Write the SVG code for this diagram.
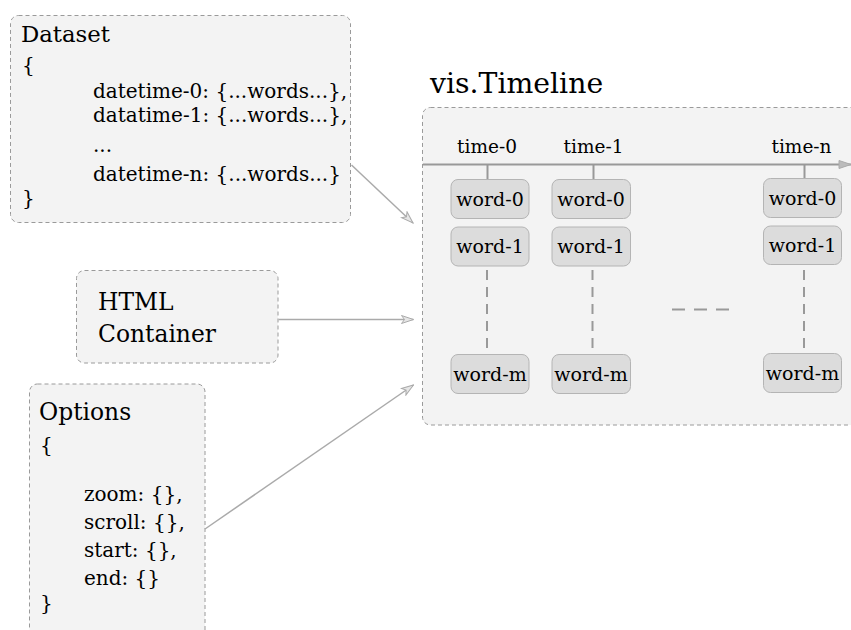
<svg xmlns="http://www.w3.org/2000/svg" width="851" height="630" viewBox="0 0 851 630">
<defs>
<style>
text{font-family:"DejaVu Serif","Liberation Serif",serif;fill:#000}
.box{fill:#f3f3f3;stroke:#9a9a9a;stroke-width:1;stroke-dasharray:4 3}
.word{fill:#dcdcdc;stroke:#b4b4b4;stroke-width:1}
.wt{font-size:19px;text-anchor:middle}
.tt{font-size:18.5px;text-anchor:middle}
.big{font-size:23.4px}
.body{font-size:20px}
.conn{stroke:#aaa;stroke-width:1.5;fill:none}
.tick{stroke:#999;stroke-width:2}
.vd{stroke:#999;stroke-width:2;stroke-dasharray:10 7}
</style>
<marker id="arr" markerWidth="14" markerHeight="10" refX="13" refY="5" orient="auto" markerUnits="userSpaceOnUse">
<path d="M1,1 L13,5 L1,9 L4,5 Z" fill="#e6e6e6" stroke="#aaa" stroke-width="1"/>
</marker>
<marker id="axarr" markerWidth="14" markerHeight="10" refX="13" refY="5" orient="auto" markerUnits="userSpaceOnUse">
<path d="M1,1 L13,5 L1,9 Z" fill="#bbb" stroke="#aaa" stroke-width="1"/>
</marker>
</defs>
<g id="dataset">
<rect class="box" x="10.5" y="15.5" width="340" height="207" rx="8"/>
<text class="big" x="21" y="42" style="font-size:22.8px">Dataset</text>
<text class="body" x="22" y="72">{</text>
<text class="body" x="93" y="98">datetime-0: {...words...},</text>
<text class="body" x="93" y="122">datatime-1: {...words...},</text>
<text class="body" x="93" y="152">...</text>
<text class="body" x="93" y="181">datetime-n: {...words...}</text>
<text class="body" x="22" y="205">}</text>
</g>
<g id="html-container">
<rect class="box" x="76.5" y="270.5" width="201.5" height="92.5" rx="8"/>
<text class="big" x="98" y="310">HTML</text>
<text class="big" x="98" y="342">Container</text>
</g>
<g id="options">
<rect class="box" x="29.5" y="384" width="175.5" height="260" rx="8"/>
<text class="big" x="39" y="420">Options</text>
<text class="body" x="40" y="452">{</text>
<text class="body" x="84" y="501">zoom: {},</text>
<text class="body" x="84" y="529">scroll: {},</text>
<text class="body" x="84" y="557">start: {},</text>
<text class="body" x="84" y="585">end: {}</text>
<text class="body" x="40" y="610">}</text>
</g>
<g id="timeline">
<text x="430" y="93" style="font-size:28.3px">vis.Timeline</text>
<rect class="box" x="422.5" y="107.5" width="450" height="317.5" rx="8"/>
<line x1="423" y1="164.5" x2="851" y2="164.5" class="tick" marker-end="url(#axarr)"/>
<text class="tt" x="487" y="153">time-0</text>
<text class="tt" x="593.5" y="153">time-1</text>
<text class="tt" x="801.5" y="153">time-n</text>
<line class="tick" x1="487.5" y1="165" x2="487.5" y2="179"/>
<line class="tick" x1="593.5" y1="165" x2="593.5" y2="179"/>
<line class="tick" x1="804.5" y1="165" x2="804.5" y2="178"/>
<g id="col-0">
<rect class="word" x="451" y="179.5" width="78" height="39" rx="7"/>
<text class="wt" x="490" y="206">word-0</text>
<rect class="word" x="451" y="227" width="78" height="39" rx="7"/>
<text class="wt" x="490" y="253">word-1</text>
<line class="vd" x1="487" y1="270" x2="487" y2="351"/>
<rect class="word" x="451" y="354.5" width="78" height="39" rx="7"/>
<text class="wt" x="490" y="381">word-m</text>
</g>
<g id="col-1">
<rect class="word" x="552" y="179.5" width="78.5" height="39" rx="7"/>
<text class="wt" x="591" y="206">word-0</text>
<rect class="word" x="552" y="227" width="78.5" height="39" rx="7"/>
<text class="wt" x="591" y="253">word-1</text>
<line class="vd" x1="592.5" y1="270" x2="592.5" y2="351"/>
<rect class="word" x="552" y="354.5" width="78.5" height="39" rx="7"/>
<text class="wt" x="591" y="381">word-m</text>
</g>
<g id="col-n">
<rect class="word" x="763.5" y="178.5" width="78" height="39" rx="7"/>
<text class="wt" x="802.5" y="205">word-0</text>
<rect class="word" x="763.5" y="226" width="78" height="38.5" rx="7"/>
<text class="wt" x="802.5" y="252">word-1</text>
<line class="vd" x1="804" y1="270" x2="804" y2="350"/>
<rect class="word" x="763.5" y="353.5" width="78" height="39" rx="7"/>
<text class="wt" x="802.5" y="380">word-m</text>
</g>
<line class="vd" x1="672" y1="309.5" x2="730" y2="309.5" style="stroke-dasharray:13 9"/>
</g>
<g id="connectors">
<line class="conn" x1="351.5" y1="165" x2="413" y2="223" marker-end="url(#arr)"/>
<line class="conn" x1="278.5" y1="319.5" x2="413.5" y2="319.5" marker-end="url(#arr)"/>
<line class="conn" x1="205" y1="529" x2="413.5" y2="385" marker-end="url(#arr)"/>
</g>
</svg>
